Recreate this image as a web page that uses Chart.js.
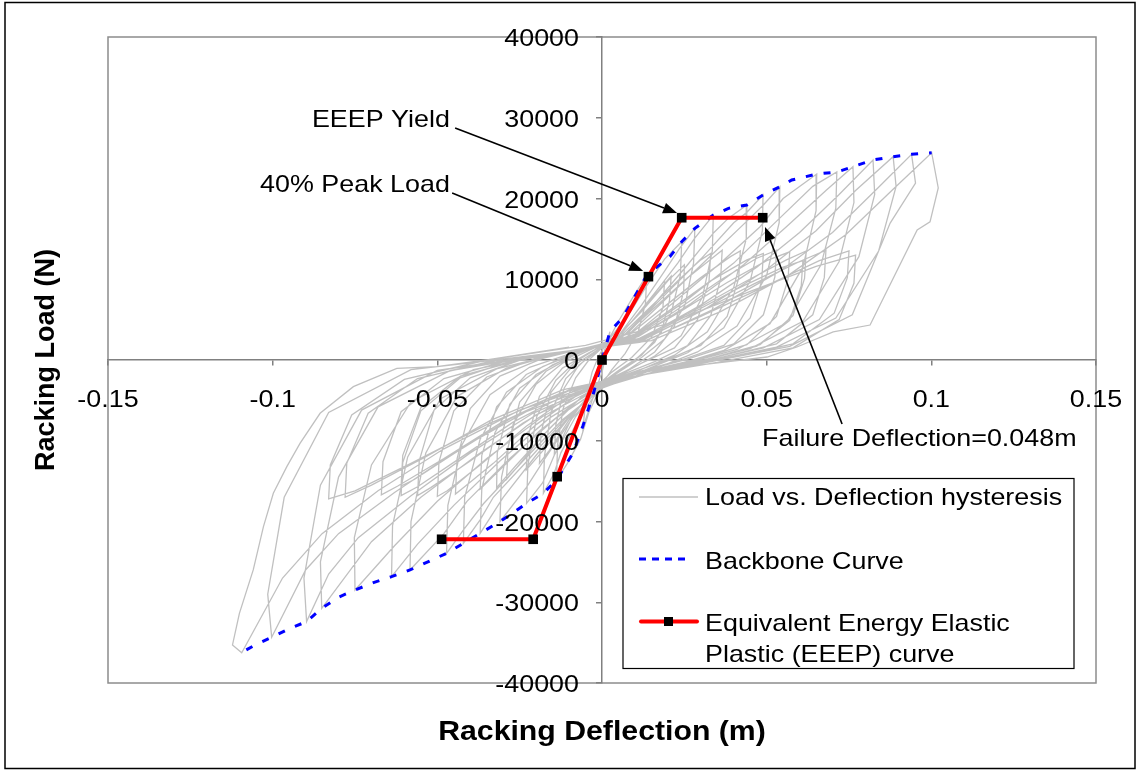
<!DOCTYPE html>
<html><head><meta charset="utf-8">
<script src="https://cdn.jsdelivr.net/npm/chart.js@4.4.0/dist/chart.umd.min.js"></script>
<style>html,body{margin:0;padding:0;background:#fff;}canvas{display:block;}</style>
</head><body>
<canvas id="c" width="1138" height="771"></canvas>
<script>
// ---------- DATA ----------
const xTicks = [-0.15, -0.1, -0.05, 0, 0.05, 0.1, 0.15];
const xTickLabels = ['-0.15', '-0.1', '-0.05', '0', '0.05', '0.1', '0.15'];
const yTicks = [-40000, -30000, -20000, -10000, 0, 10000, 20000, 30000, 40000];
const yTickLabels = ['-40000', '-30000', '-20000', '-10000', '0', '10000', '20000', '30000', '40000'];
const xTitle = 'Racking Deflection (m)';
const yTitle = 'Racking Load (N)';
const seriesNames = ['Load vs. Deflection hysteresis', 'Backbone Curve', 'Equivalent Energy Elastic Plastic (EEEP) curve'];

// EEEP curve (deflection m, load N)
const eeepDefl = [-0.0487, -0.0209, -0.0136, 0, 0.0141, 0.0242, 0.0488];
const eeepLoad = [-22200, -22200, -14450, 0, 10320, 17620, 17620];

// Backbone curve
const backboneDefl = [-0.108, -0.1059, -0.1003, -0.0947, -0.0897, -0.0851, -0.0801, -0.075, -0.0694, -0.0639, -0.0583, -0.0527, -0.0472, -0.0421, -0.037, -0.031, -0.0267, -0.0229, -0.0178, -0.0138, -0.0088, -0.0058, -0.0025, 0, 0.0024, 0.0065, 0.0136, 0.0206, 0.0242, 0.0282, 0.0338, 0.0384, 0.044, 0.0489, 0.054, 0.0576, 0.0652, 0.0713, 0.0762, 0.0823, 0.0884, 0.094, 0.1001];
const backboneLoad = [-35900, -35420, -34340, -33230, -32400, -30750, -29390, -28480, -27570, -26830, -26000, -24970, -23940, -22700, -21460, -20020, -18820, -17750, -16510, -14860, -11520, -8170, -4000, 0, 3500, 5360, 10500, 12800, 14650, 16300, 17950, 18780, 19200, 20430, 21460, 22290, 23030, 23280, 23940, 24770, 25180, 25470, 25670];

// Hysteresis trace [deflection, load]
const hysteresis = [
[0,0],[0.0012,1800],[0.0024,3500],[0.002,2000],[0.001,200],[0,-1500],[-0.002,-3800],[-0.0045,-6800],[-0.0057,-8260],[-0.005,-5000],[-0.003,-1500],[-0.001,500],
[0.002,2500],[0.005,4800],[0.009,7500],[0.0136,10500],[0.0132,7000],[0.011,3500],[0.007,800],[0.003,-1200],[0,-3000],[-0.004,-6500],[-0.0065,-9800],[-0.0105,-12800],[-0.0138,-14860],[-0.0135,-10500],[-0.0118,-6000],[-0.008,-2200],[-0.004,0],[0,1500],
[0.004,3500],[0.009,6200],[0.0136,9200],[0.019,12500],[0.0242,14650],[0.0238,10500],[0.021,5800],[0.016,2200],[0.01,0],[0.004,-1800],[0,-3200],[-0.006,-6500],[-0.0125,-11500],[-0.0145,-14000],[-0.0178,-16510],[-0.0175,-12000],[-0.0155,-6500],[-0.011,-2300],[-0.006,-300],[-0.002,1000],
[0.004,2500],[0.01,5200],[0.017,8800],[0.019,9800],[0.0185,6500],[0.015,2800],[0.009,300],[0.003,-1500],[-0.003,-3800],[-0.009,-7000],[-0.013,-10500],[-0.0145,-11800],[-0.014,-8000],[-0.0115,-3500],[-0.007,-600],[-0.002,900],
[0.005,3000],[0.012,6800],[0.019,11000],[0.0235,13800],[0.0282,16300],[0.0278,12000],[0.0252,6800],[0.019,2600],[0.012,300],[0.005,-1500],[0,-3000],[-0.008,-7000],[-0.0145,-11800],[-0.018,-15200],[-0.0229,-17750],[-0.0225,-13000],[-0.0198,-7000],[-0.014,-2500],[-0.008,-200],[-0.002,1300],
[0.004,2600],[0.011,5600],[0.018,9000],[0.021,10400],[0.0205,7400],[0.018,3400],[0.012,600],[0.005,-1300],[-0.002,-3400],[-0.009,-6800],[-0.016,-11200],[-0.019,-12800],[-0.0185,-9000],[-0.0155,-4000],[-0.009,-800],[-0.003,800],
[0.006,3300],[0.014,7200],[0.023,12000],[0.028,15000],[0.0338,17950],[0.0335,13500],[0.0305,7800],[0.024,3000],[0.016,500],[0.007,-1500],[0,-3200],[-0.009,-7200],[-0.017,-12000],[-0.023,-15800],[-0.031,-20020],[-0.0305,-14500],[-0.027,-8000],[-0.02,-3000],[-0.012,-400],[-0.004,1200],
[0.004,2600],[0.012,6000],[0.02,9800],[0.025,11800],[0.0248,8500],[0.022,4200],[0.016,1000],[0.008,-1200],[0,-3000],[-0.009,-6600],[-0.017,-10800],[-0.023,-13600],[-0.0225,-9500],[-0.019,-4500],[-0.012,-1000],[-0.004,900],
[0.007,3200],[0.016,7000],[0.026,11800],[0.034,15800],[0.0385,17600],[0.044,19200],[0.0438,15000],[0.04,9000],[0.032,3500],[0.022,600],[0.01,-1500],[0,-3300],[-0.01,-7000],[-0.02,-11800],[-0.03,-17000],[-0.037,-21460],[-0.0365,-16000],[-0.0325,-9000],[-0.025,-3500],[-0.015,-600],[-0.005,1200],
[0.005,2700],[0.014,6300],[0.024,10200],[0.03,12400],[0.033,13200],[0.0325,9800],[0.029,5000],[0.022,1500],[0.012,-400],[0.002,-2400],[-0.008,-5200],[-0.018,-9400],[-0.026,-13400],[-0.029,-14800],[-0.0285,-10800],[-0.025,-5200],[-0.017,-1400],[-0.008,700],
[0.008,3400],[0.018,7600],[0.03,12500],[0.04,17000],[0.044,18300],[0.0489,20430],[0.0487,16000],[0.045,9800],[0.037,4000],[0.026,900],[0.012,-1400],[0,-3400],[-0.011,-7200],[-0.022,-12200],[-0.033,-17000],[-0.037,-19800],[-0.0421,-22700],[-0.0417,-17000],[-0.037,-9800],[-0.029,-4000],[-0.018,-800],[-0.006,1100],
[0.006,2800],[0.016,6500],[0.026,10200],[0.034,12800],[0.0365,13600],[0.036,10000],[0.033,5500],[0.026,1800],[0.016,-200],[0.005,-2000],[-0.006,-4500],[-0.016,-8500],[-0.026,-13000],[-0.032,-15800],[-0.0318,-11500],[-0.028,-5500],[-0.02,-1800],[-0.01,400],
[0.009,3500],[0.02,7800],[0.032,12500],[0.044,17200],[0.049,19200],[0.054,21460],[0.0538,17000],[0.05,10500],[0.041,4200],[0.029,1000],[0.014,-1400],[0,-3500],[-0.012,-7400],[-0.024,-12500],[-0.036,-17800],[-0.042,-21000],[-0.0472,-23940],[-0.0468,-18000],[-0.0425,-10500],[-0.034,-4300],[-0.022,-900],[-0.008,1000],
[0.007,2700],[0.018,6300],[0.03,10200],[0.039,12800],[0.042,13500],[0.0415,10100],[0.038,5400],[0.03,1800],[0.019,-100],[0.006,-2000],[-0.006,-4600],[-0.019,-8800],[-0.03,-13200],[-0.037,-16000],[-0.0365,-11800],[-0.032,-5800],[-0.023,-1800],[-0.012,300],
[0.01,3200],[0.022,7200],[0.036,12000],[0.048,16500],[0.055,20000],[0.0652,23030],[0.065,18500],[0.061,11500],[0.051,4500],[0.037,1200],[0.018,-1200],[0,-3400],[-0.014,-7200],[-0.028,-12200],[-0.041,-17500],[-0.048,-21500],[-0.0583,-26000],[-0.058,-20000],[-0.0535,-11500],[-0.044,-4500],[-0.029,-1000],[-0.012,900],
[0.008,2600],[0.02,6000],[0.033,9800],[0.044,12400],[0.049,13200],[0.0485,9800],[0.045,5200],[0.037,1800],[0.024,0],[0.008,-1800],[-0.007,-4200],[-0.02,-8000],[-0.033,-12800],[-0.042,-15800],[-0.0445,-16600],[-0.044,-12200],[-0.04,-6000],[-0.031,-2000],[-0.018,200],
[0.01,3000],[0.025,7200],[0.04,12000],[0.052,16800],[0.064,21500],[0.0713,23280],[0.071,18800],[0.0665,11800],[0.056,4600],[0.041,1300],[0.02,-1000],[0,-3200],[-0.016,-7200],[-0.031,-12500],[-0.045,-18000],[-0.056,-22800],[-0.0639,-26830],[-0.0636,-20500],[-0.059,-12000],[-0.049,-4800],[-0.032,-1100],[-0.013,800],
[0.009,2600],[0.022,6000],[0.036,9900],[0.047,12600],[0.053,13600],[0.0525,10300],[0.049,5600],[0.04,2000],[0.026,100],[0.008,-1800],[-0.009,-4300],[-0.023,-8200],[-0.037,-13000],[-0.047,-16200],[-0.05,-16900],[-0.0495,-12600],[-0.045,-6300],[-0.035,-2100],[-0.02,200],
[0.011,2900],[0.027,7000],[0.043,11800],[0.056,16500],[0.068,21000],[0.0762,23940],[0.0765,19500],[0.072,12200],[0.061,4800],[0.045,1400],[0.022,-900],[0,-3100],[-0.018,-7000],[-0.035,-12200],[-0.05,-17500],[-0.063,-23000],[-0.075,-28480],[-0.0752,-22000],[-0.07,-13000],[-0.058,-5200],[-0.039,-1200],[-0.016,700],
[0.009,2500],[0.023,5800],[0.038,9600],[0.05,12300],[0.057,13400],[0.0565,10000],[0.053,5400],[0.044,1900],[0.029,100],[0.01,-1700],[-0.008,-4000],[-0.024,-7800],[-0.04,-12500],[-0.052,-15800],[-0.056,-16800],[-0.0555,-12500],[-0.051,-6200],[-0.04,-2200],[-0.024,100],
[0.012,2700],[0.03,6800],[0.047,11500],[0.06,15800],[0.072,20500],[0.0823,24770],[0.0828,20500],[0.078,12800],[0.066,5000],[0.049,1500],[0.024,-800],[0,-3000],[-0.02,-6800],[-0.038,-11800],[-0.055,-17000],[-0.07,-22500],[-0.0851,-30750],[-0.0855,-25000],[-0.08,-14500],[-0.068,-5800],[-0.046,-1300],[-0.018,600],
[0.01,2400],[0.026,5700],[0.043,9600],[0.056,12400],[0.062,13500],[0.0615,10100],[0.058,5500],[0.048,1900],[0.032,100],[0.011,-1700],[-0.009,-3900],[-0.027,-7700],[-0.044,-12400],[-0.056,-15700],[-0.061,-16800],[-0.0605,-12700],[-0.055,-6300],[-0.043,-2200],[-0.026,100],
[0.01,2200],[0.025,5300],[0.041,8800],[0.055,11500],[0.061,12300],[0.0605,9200],[0.057,4900],[0.047,1700],[0.031,0],[0.01,-1600],[-0.01,-3700],[-0.028,-7300],[-0.045,-11600],[-0.057,-14800],[-0.061,-15600],[-0.0605,-11800],[-0.055,-5900],[-0.043,-2000],[-0.025,0],
[0.013,2600],[0.032,6500],[0.05,11200],[0.065,16000],[0.077,21000],[0.0884,25180],[0.0893,21500],[0.084,13500],[0.071,5200],[0.053,1600],[0.026,-700],[0,-2900],[-0.021,-6600],[-0.04,-11500],[-0.058,-16800],[-0.074,-22000],[-0.083,-26500],[-0.0897,-32400],[-0.0905,-27000],[-0.0855,-15500],[-0.073,-6200],[-0.05,-1300],[-0.02,500],
[0.011,2300],[0.028,5600],[0.046,9400],[0.06,12200],[0.068,13600],[0.0675,10200],[0.064,5600],[0.053,2000],[0.035,200],[0.012,-1600],[-0.01,-3800],[-0.03,-7600],[-0.048,-12200],[-0.062,-15600],[-0.067,-16700],[-0.0665,-12600],[-0.061,-6400],[-0.048,-2300],[-0.028,0],
[0.014,2500],[0.034,6300],[0.054,11000],[0.07,15800],[0.083,21000],[0.094,25470],[0.0952,21900],[0.0875,16960],[0.076,5600],[0.057,1700],[0.028,-600],[0,-2800],[-0.023,-6400],[-0.044,-11200],[-0.063,-16400],[-0.08,-21500],[-0.09,-26000],[-0.1003,-34340],[-0.1015,-29000],[-0.0965,-17000],[-0.083,-6500],[-0.058,-1200],[-0.024,400],
[0.012,2200],[0.03,5400],[0.05,9200],[0.066,12300],[0.075,13500],[0.0745,10200],[0.0705,5800],[0.058,2000],[0.038,200],[0.013,-1500],[-0.012,-3700],[-0.034,-7500],[-0.054,-12100],[-0.07,-15500],[-0.078,-17000],[-0.0775,-12800],[-0.071,-6600],[-0.056,-2300],[-0.032,0],
[0.015,2400],[0.036,6000],[0.057,10600],[0.074,15500],[0.088,21000],[0.1001,25670],[0.1021,21300],[0.0996,17100],[0.0957,16100],[0.0814,4330],[0.0702,3470],[0.0592,1610],[0.0501,370],[0.028,-700],[0,-2700],[-0.025,-6200],[-0.048,-11000],[-0.068,-16200],[-0.085,-21500],[-0.097,-27000],[-0.1094,-36250],[-0.1122,-35290],[-0.1101,-31370],[-0.1059,-26000],[-0.1028,-20640],[-0.0998,-16510],[-0.0957,-13210],[-0.0917,-10320],[-0.0856,-6600],[-0.0755,-3300],[-0.0623,-1030],[-0.0502,-830],
[-0.03,300],[-0.005,1800],[0.02,4500],[0.045,8500],[0.065,11600],[0.077,13000],[0.0765,9500],[0.072,5000],[0.058,1500],[0.035,-300],[0.01,-2000],
[-0.012,-4000],[-0.035,-8000],[-0.058,-12800],[-0.075,-16200],[-0.083,-17200],[-0.0825,-13000],[-0.076,-6800],[-0.06,-2400],[-0.035,0],[-0.01,1600]
];

// Annotations (anchor in data units)
const noteTexts = ['EEEP Yield', '40% Peak Load', 'Failure Deflection=0.048m'];
const noteTextX = [-0.0462, -0.0462, 0.0486];
const noteTextY = [28850, 20800, -10650];
const noteAlign = ['right', 'right', 'left'];
const arrowFromX = [-0.0446, -0.0455, 0.0729];
const arrowFromY = [28730, 20680, -7930];
const arrowToX = [0.0228, 0.0125, 0.0495];
const arrowToY = [18200, 11020, 16470];

// ---------- HELPERS ----------
const SX = 1.12;
const FONT = '"Liberation Sans", Arial, sans-serif';
function sText(ctx, txt, x, y, align, font, sx) {
  ctx.save();
  ctx.font = font; ctx.fillStyle = '#000'; ctx.textBaseline = 'alphabetic'; ctx.textAlign = 'left';
  const w = ctx.measureText(txt).width * sx;
  const x0 = align === 'right' ? x - w : (align === 'center' ? x - w / 2 : x);
  ctx.translate(x0, y); ctx.scale(sx, 1); ctx.fillText(txt, 0, 0);
  ctx.restore();
}
function arrow(ctx, x1, y1, x2, y2) {
  const a = Math.atan2(y2 - y1, x2 - x1), L = 14, H = 5.5;
  const bx = x2 - L * Math.cos(a), by = y2 - L * Math.sin(a);
  ctx.save();
  ctx.strokeStyle = '#000'; ctx.fillStyle = '#000'; ctx.lineWidth = 1.6;
  ctx.beginPath(); ctx.moveTo(x1, y1); ctx.lineTo(bx, by); ctx.stroke();
  ctx.beginPath(); ctx.moveTo(x2, y2);
  ctx.lineTo(bx + H * Math.sin(a), by - H * Math.cos(a));
  ctx.lineTo(bx - H * Math.sin(a), by + H * Math.cos(a));
  ctx.closePath(); ctx.fill();
  ctx.restore();
}

const decor = {
  id: 'decor',
  beforeDraw(chart) {
    const ctx = chart.ctx, a = chart.chartArea;
    ctx.save();
    ctx.fillStyle = '#fff'; ctx.fillRect(0, 0, chart.width, chart.height);
    ctx.strokeStyle = '#000'; ctx.lineWidth = 1.5;
    ctx.strokeRect(5, 2.5, 1130, 766);
    ctx.strokeStyle = '#8c8c8c'; ctx.lineWidth = 1.5;
    ctx.strokeRect(a.left, a.top, a.right - a.left, a.bottom - a.top);
    ctx.restore();
  },
  afterDraw(chart) {
    const ctx = chart.ctx, xs = chart.scales.x, ys = chart.scales.y, a = chart.chartArea;
    const f24 = '24px ' + FONT;
    const axisY = ys.getPixelForValue(0), axisX = xs.getPixelForValue(0);
    // tick labels
    xs.ticks.forEach((t, i) => {
      sText(ctx, xTickLabels[i], xs.getPixelForValue(t.value), axisY + 47, 'center', f24, SX);
    });
    ys.ticks.forEach((t, i) => {
      sText(ctx, yTickLabels[i], axisX - 23, ys.getPixelForValue(t.value) + 9, 'right', f24, SX);
    });
    // axis titles
    sText(ctx, xTitle, (a.left + a.right) / 2, 740, 'center', 'bold 28px ' + FONT, 1.08);
    ctx.save();
    ctx.translate(54, (a.top + a.bottom) / 2); ctx.rotate(-Math.PI / 2);
    ctx.font = 'bold 27px ' + FONT; ctx.fillStyle = '#000'; ctx.textAlign = 'center'; ctx.textBaseline = 'alphabetic';
    ctx.fillText(yTitle, 0, 0);
    ctx.restore();
    // annotations
    noteTexts.forEach((t, i) => {
      sText(ctx, t, xs.getPixelForValue(noteTextX[i]), ys.getPixelForValue(noteTextY[i]), noteAlign[i], f24, SX);
      arrow(ctx, xs.getPixelForValue(arrowFromX[i]), ys.getPixelForValue(arrowFromY[i]),
        xs.getPixelForValue(arrowToX[i]), ys.getPixelForValue(arrowToY[i]));
    });
    // legend
    ctx.save();
    ctx.fillStyle = '#fff'; ctx.fillRect(623, 478.5, 451, 190);
    ctx.strokeStyle = '#000'; ctx.lineWidth = 1.2; ctx.strokeRect(623, 478.5, 451, 190);
    const ds = chart.data.datasets;
    ctx.strokeStyle = ds[2].borderColor; ctx.lineWidth = 1.3;
    ctx.beginPath(); ctx.moveTo(639, 497); ctx.lineTo(698, 497); ctx.stroke();
    ctx.strokeStyle = ds[1].borderColor; ctx.lineWidth = 3; ctx.setLineDash([7, 6]);
    ctx.beginPath(); ctx.moveTo(639, 559); ctx.lineTo(687, 559); ctx.stroke();
    ctx.setLineDash([]);
    ctx.strokeStyle = ds[0].borderColor; ctx.lineWidth = 4; ctx.lineCap = 'round';
    ctx.beginPath(); ctx.moveTo(641, 621.5); ctx.lineTo(697, 621.5); ctx.stroke();
    ctx.fillStyle = '#000'; ctx.fillRect(664, 617, 9, 9);
    ctx.restore();
    sText(ctx, seriesNames[0], 705, 505, 'left', f24, SX);
    sText(ctx, seriesNames[1], 705, 569, 'left', f24, SX);
    sText(ctx, 'Equivalent Energy Elastic', 705, 631, 'left', f24, SX);
    sText(ctx, 'Plastic (EEEP) curve', 705, 662, 'left', f24, SX);
  }
};

const toPts = (xs, ys) => xs.map((v, i) => ({ x: v, y: ys[i] }));

new Chart(document.getElementById('c').getContext('2d'), {
  type: 'line',
  data: {
    datasets: [
      { label: seriesNames[2], data: toPts(eeepDefl, eeepLoad), borderColor: '#ff0000', borderWidth: 4,
        pointStyle: 'rect', pointRadius: 6.8, pointBackgroundColor: '#000', pointBorderColor: '#000', pointBorderWidth: 0, tension: 0 },
      { label: seriesNames[1], data: toPts(backboneDefl, backboneLoad), borderColor: '#0000ff', borderWidth: 3,
        borderDash: [7, 11], pointRadius: 0, tension: 0 },
      { label: seriesNames[0], data: hysteresis.map(p => ({ x: p[0], y: p[1] })), borderColor: '#c0c0c0', borderWidth: 1.3,
        pointRadius: 0, tension: 0 }
    ]
  },
  options: {
    responsive: false, animation: false, devicePixelRatio: 1,
    layout: { padding: { left: 108, top: 37, right: 42, bottom: 88 } },
    plugins: { legend: { display: false }, tooltip: { enabled: false } },
    scales: {
      x: {
        type: 'linear', min: -0.15, max: 0.15, position: { y: 0 },
        afterBuildTicks: s => { s.ticks = xTicks.map(v => ({ value: v })); },
        grid: { drawOnChartArea: false, drawTicks: true, tickLength: 5, color: '#808080', lineWidth: 1.5 },
        border: { color: '#808080', width: 1.5 },
        ticks: { display: false }
      },
      y: {
        type: 'linear', min: -40000, max: 40000, position: { x: 0 },
        afterBuildTicks: s => { s.ticks = yTicks.map(v => ({ value: v })); },
        grid: { drawOnChartArea: false, drawTicks: true, tickLength: 5, color: '#808080', lineWidth: 1.5 },
        border: { color: '#808080', width: 1.5 },
        ticks: { display: false }
      }
    }
  },
  plugins: [decor]
});
</script>
</body></html>
